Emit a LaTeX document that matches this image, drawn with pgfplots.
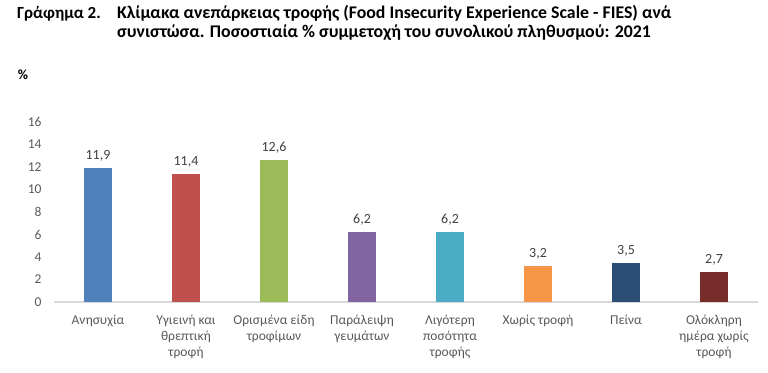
\documentclass[border=0pt]{standalone}
\usepackage{fontspec}
\setmainfont{Carlito}
\usepackage{pgfplots}
\pgfplotsset{compat=1.18}
\definecolor{c1}{HTML}{4F81BD}
\definecolor{c2}{HTML}{C0504D}
\definecolor{c3}{HTML}{9BBB59}
\definecolor{c4}{HTML}{8064A2}
\definecolor{c5}{HTML}{4BACC6}
\definecolor{c6}{HTML}{F79646}
\definecolor{c7}{HTML}{2C4D75}
\definecolor{c8}{HTML}{772C2A}
\definecolor{txt}{HTML}{595959}
\definecolor{lbl}{HTML}{404040}
\begin{document}
\begin{tikzpicture}[x=1pt,y=1pt]
\path[use as bounding box] (0,0) rectangle (768,372);
\node[anchor=base west,font=\fontsize{17}{19}\selectfont\bfseries,text=black,inner sep=0] at (17,353) {Γράφημα 2.};
\node[anchor=base west,font=\fontsize{17.8}{21}\selectfont\bfseries,text=black,inner sep=0] at (117,353) {Κλίμακα ανεπάρκειας τροφής (Food Insecurity Experience Scale - FIES) ανά};
\node[anchor=base west,font=\fontsize{17.8}{21}\selectfont\bfseries,text=black,inner sep=0] at (117,334) {συνιστώσα. Ποσοστιαία \% συμμετοχή του συνολικού πληθυσμού: 2021};
\node[anchor=center,font=\fontsize{14}{16}\selectfont\bfseries,text=black,inner sep=0] at (23,297) {\%};
\begin{axis}[
  at={(54pt,70pt)}, anchor=south west,
  width=704pt, height=180pt, scale only axis,
  xmin=-0.5, xmax=7.5, ymin=0, ymax=16,
  ytick={0,2,...,16},
  xtick={0,...,7},
  xticklabels={Ανησυχία, Υγιεινή και\\θρεπτική\\τροφή, Ορισμένα είδη\\τροφίμων, Παράλειψη\\γευμάτων, Λιγότερη\\ποσότητα\\τροφής, Χωρίς τροφή, Πείνα, Ολόκληρη\\ημέρα χωρίς\\τροφή},
  xticklabel style={align=center, font=\fontsize{13.5}{16}\selectfont, text=txt, yshift=-9pt, anchor=north},
  yticklabel style={font=\fontsize{13.5}{16}\selectfont, text=txt, xshift=-9pt},
  /pgf/number format/assume math mode=true,
  axis x line=bottom, axis y line=left,
  x axis line style={draw=black!15, line width=1.3pt, -},
  y axis line style={draw=none},
  major tick length=0pt,
  tick style={draw=none},
  ybar, bar width=28pt, bar shift=0pt,
  nodes near coords,
  nodes near coords style={font=\fontsize{14}{16}\selectfont, text=lbl, yshift=3pt, /pgf/number format/.cd, fixed, fixed zerofill, precision=1, use comma, assume math mode=true},
  clip=false,
]
\addplot[fill=c1, draw=none] coordinates {(0,11.9)};
\addplot[fill=c2, draw=none] coordinates {(1,11.4)};
\addplot[fill=c3, draw=none] coordinates {(2,12.6)};
\addplot[fill=c4, draw=none] coordinates {(3,6.2)};
\addplot[fill=c5, draw=none] coordinates {(4,6.2)};
\addplot[fill=c6, draw=none] coordinates {(5,3.2)};
\addplot[fill=c7, draw=none] coordinates {(6,3.5)};
\addplot[fill=c8, draw=none] coordinates {(7,2.7)};
\end{axis}
\end{tikzpicture}
\end{document}
